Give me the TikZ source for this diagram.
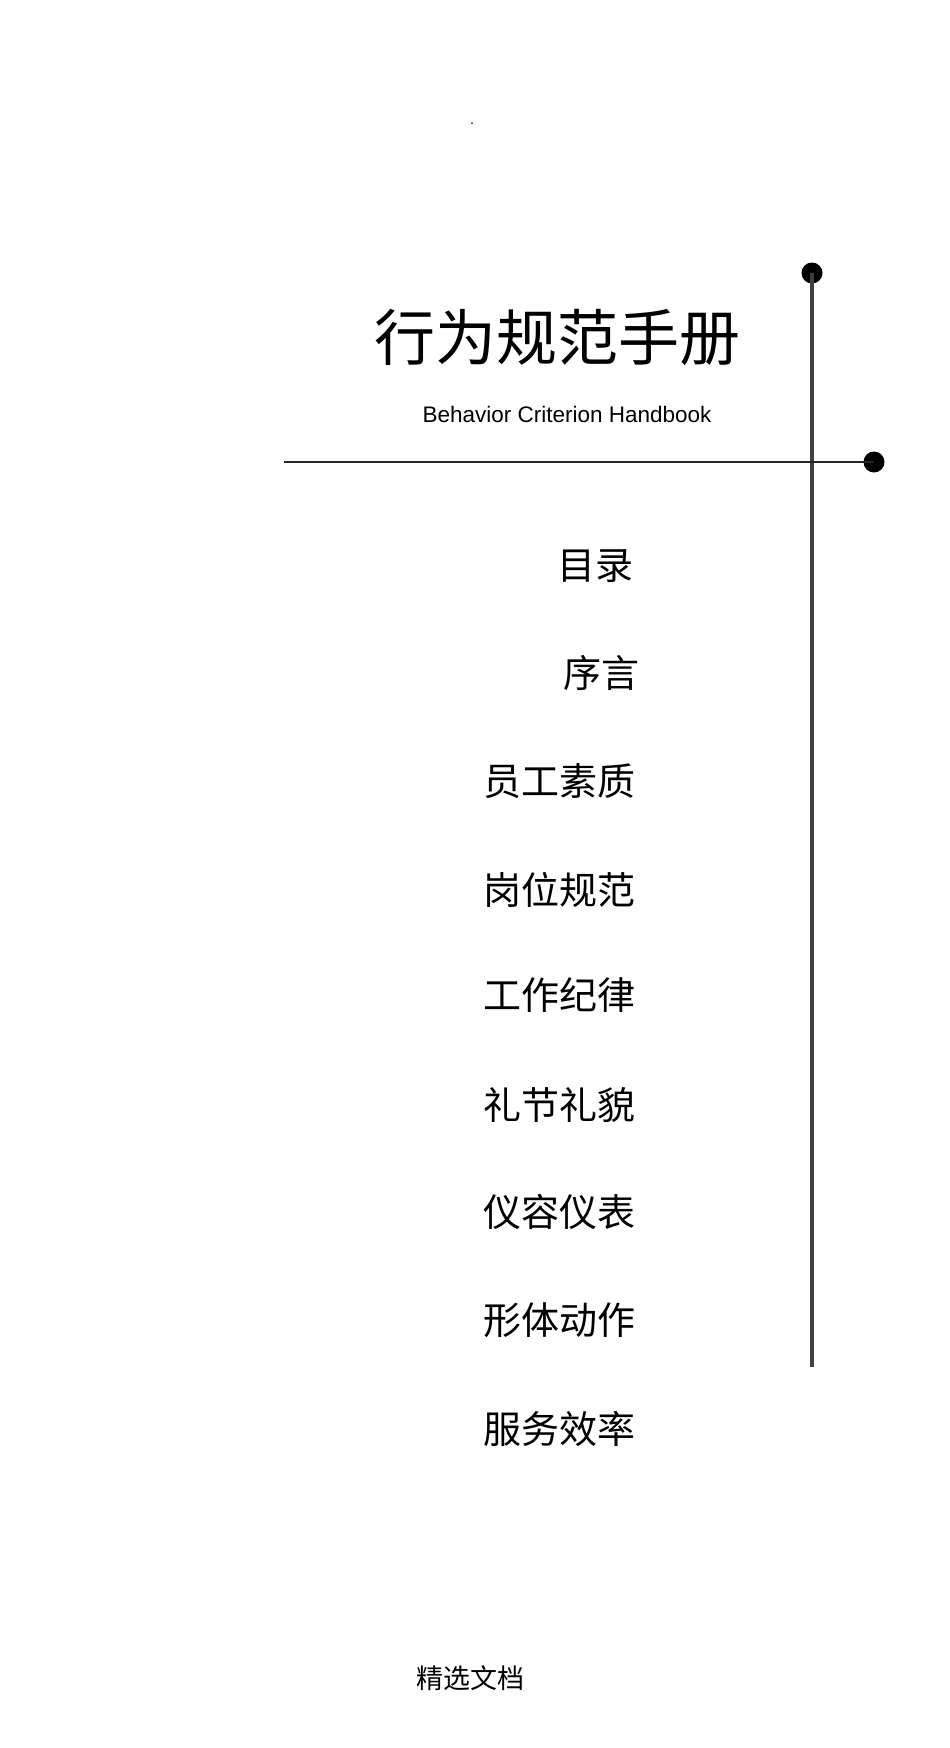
\documentclass[tikz,border=0pt]{standalone}
\usepackage{fontspec}
\setmainfont{Liberation Sans}
\newfontfamily\cjk{Noto Sans CJK SC}
\begin{document}
\begin{tikzpicture}[x=1pt,y=-1pt,
  item/.style={anchor=east,font=\cjk\fontsize{38}{40}\selectfont,inner sep=0},
  dotc/.style={circle,fill=black,inner sep=0,minimum size=21pt}]
\useasboundingbox (0,0) rectangle (950,1748);
\node[inner sep=0,font=\Large] (pt) at (472,124) {.};
\node[inner sep=0,font=\cjk\fontsize{61}{63}\selectfont] (title) at (557,337) {行为规范手册};
\node[inner sep=0,font=\fontsize{22.5}{24}\selectfont] (sub) at (567,414) {Behavior Criterion Handbook};
\node[dotc] (d1) at (812,273) {};
\node[dotc] (d2) at (874,462) {};
\coordinate (vb) at (812,1367);
\coordinate (hl) at (284,462);
\draw[line width=4.5pt,draw=black!75] (d1.center) -- (vb);
\draw[line width=2.5pt,draw=black!85] (hl) -- (d2.center);
\node[item] (i1) at (634,566) {目录};
\node[item] (i2) at (640,673) {序言};
\node[item] (i3) at (636,781) {员工素质};
\node[item] (i4) at (636,890) {岗位规范};
\node[item] (i5) at (636,995) {工作纪律};
\node[item] (i6) at (636,1105) {礼节礼貌};
\node[item] (i7) at (636,1212) {仪容仪表};
\node[item] (i8) at (636,1320) {形体动作};
\node[item] (i9) at (636,1429) {服务效率};
\node[inner sep=0,font=\cjk\fontsize{27}{29}\selectfont] (foot) at (470,1678) {精选文档};
\end{tikzpicture}
\end{document}
